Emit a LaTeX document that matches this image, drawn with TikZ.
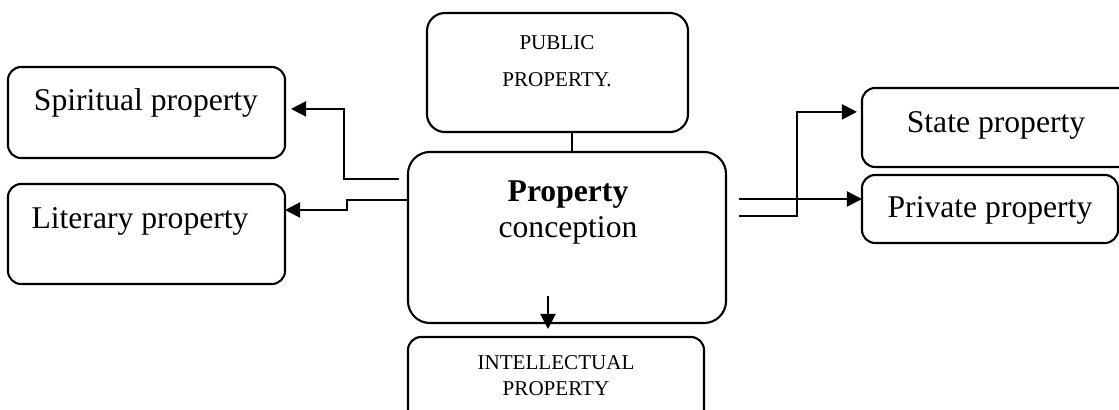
\documentclass[tikz,border=0pt]{standalone}
\usepackage{fontspec}
\setmainfont{Liberation Serif}
\usetikzlibrary{calc, arrows.meta}
\newcommand{\bigtxt}{\fontsize{22.5}{25.6}\selectfont}
\newcommand{\smalltxt}{\fontsize{15}{26.3}\selectfont}

\begin{document}
\begin{tikzpicture}[
  x=0.025cm, y=-0.025cm,
  box/.style={draw, line width=1.5pt, rounded corners=0.33cm, inner sep=0pt, outer sep=0pt},
  txt/.style={anchor=base, inner sep=0pt, align=center},
  arr/.style={line width=1.5pt, -{Triangle[length=0.375cm, width=0.375cm]}},
  link/.style={line width=1.5pt}
]
  \useasboundingbox (0,0) rectangle (1119,409);

  \node[box, minimum width=6.925cm, minimum height=2.275cm] (spirit) at (146.5,112.5) {};
  \node[box, minimum width=6.925cm, minimum height=2.5cm] (literary) at (146.5,234) {};
  \node[box, rounded corners=0.45cm, minimum width=6.525cm, minimum height=2.975cm] (public) at (557.5,72.5) {};
  \node[box, rounded corners=0.55cm, minimum width=7.95cm, minimum height=4.275cm] (concept) at (567,237.5) {};
  \node[box, minimum width=7.4cm, minimum height=2.325cm] (intel) at (556,383.5) {};
  \node[box, minimum width=6.825cm, minimum height=1.975cm] (state) at (998.5,127.5) {};
  \node[box, minimum width=6.4cm, minimum height=1.7cm] (private) at (990,209) {};

  \node[txt, font=\bigtxt] (spirit-t) at (146,110) {Spiritual property};
  \node[txt, font=\bigtxt] (literary-t) at (140,228) {Literary property};
  \node[txt, font=\bigtxt] (state-t) at (996,132) {State property};
  \node[txt, font=\bigtxt] (private-t) at (990,217) {Private property};
  \node[txt, font=\bigtxt] (concept-t) at (568,237) {\textbf{Property}\\conception};
  \node[txt, font=\smalltxt] (public-t) at (557,86) {PUBLIC\\PROPERTY.};
  \node[txt, font=\fontsize{15}{17.8}\selectfont] (intel-t) at (556,395) {INTELLECTUAL\\PROPERTY};

  \coordinate (sp0) at (399,179);
  \coordinate (pv0) at (739,199);
  \coordinate (st0) at (739,216);
  \coordinate (in0) at (548,296);

  \draw[link] ([xshift=0.125cm]concept.north |- public.south) -- ([xshift=0.125cm]concept.north);
  \draw[arr] (sp0) -- ++(-55,0) |- ([xshift=0.15cm, yshift=0.09cm]spirit.east);
  \draw[arr] ([yshift=0.94cm]concept.west) -- ++(-61,0) |- ([yshift=0.6cm]literary.east);
  \draw[arr] (pv0) -- (private.west |- pv0);
  \draw[arr] (st0) -- ++(58,0) |- ([xshift=-0.125cm, yshift=0.39cm]state.west);
  \draw[arr, shorten >=0.2cm] (in0) -- (in0 |- intel.north);
\end{tikzpicture}
\end{document}
